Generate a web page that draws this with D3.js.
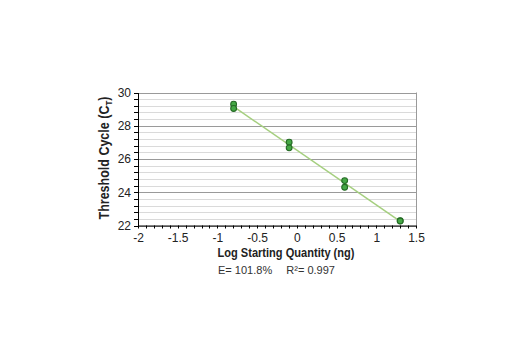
<!DOCTYPE html>
<html><head><meta charset="utf-8">
<script src="https://cdn.jsdelivr.net/npm/d3@7"></script>
<style>body{margin:0;background:#fff}svg{display:block}</style>
</head><body>
<svg id="c" width="520" height="350"></svg>
<script>
const logQty = [-0.796, -0.796, -0.097, -0.097, 0.602, 0.602, 1.301, 1.301];
const ctVals = [29.30, 29.04, 27.01, 26.67, 24.70, 24.30, 22.29, 22.27];
const xTicks = [-2, -1.5, -1, -0.5, 0, 0.5, 1, 1.5];
const yTicks = [22, 24, 26, 28, 30];
const xTitle = "Log Starting Quantity (ng)";
const yTitle = "Threshold Cycle (C";
const efficiency = "E= 101.8%";
const rSquared = "0.997";

const font = "'Liberation Sans',Arial,sans-serif";
const svg = d3.select("#c");
const L = 138, R = 416, T = 92.5, B = 225.5;
const x = d3.scaleLinear().domain([-2, 1.5]).range([L, R]);
const y = d3.scaleLinear().domain([22, 30]).range([B, T]);

// gridlines
const minor = d3.range(22, 30.001, 0.4).map(v => +v.toFixed(1));
svg.append("g").selectAll("line").data(minor).join("line")
  .attr("x1", L).attr("x2", R)
  .attr("y1", d => Math.round(y(d)) + 0.5).attr("y2", d => Math.round(y(d)) + 0.5)
  .attr("stroke", d => (Math.abs(d % 2) < 1e-6 ? "#9a9a9a" : "#dadada"))
  .attr("stroke-width", 1);
svg.append("line").attr("x1", R + 0.5).attr("x2", R + 0.5).attr("y1", T).attr("y2", B)
  .attr("stroke", "#9a9a9a");

// x axis
const xa = d3.axisBottom(x).tickValues(xTicks).tickFormat(d3.format("")).tickSize(0).tickPadding(8);
const gx = svg.append("g").attr("transform", `translate(0,${B})`).call(xa);
gx.select(".domain").attr("stroke", "#000");
gx.selectAll("text").attr("font-family", font).attr("font-size", 12).attr("fill", "#222")
  .text(d => String(d));
const xMinor = d3.range(-2, 1.5001, 0.1);
gx.selectAll(".mt").data(xMinor).join("line").attr("class", "mt")
  .attr("x1", d => Math.round(x(d)) + 0.5).attr("x2", d => Math.round(x(d)) + 0.5)
  .attr("y1", 0).attr("y2", 3).attr("stroke", "#000");

// y axis
const ya = d3.axisLeft(y).tickValues(yTicks).tickSize(0).tickPadding(7);
const gy = svg.append("g").attr("transform", `translate(${L},0)`).call(ya);
gy.select(".domain").attr("stroke", "#000");
gy.selectAll("text").attr("font-family", font).attr("font-size", 12).attr("fill", "#222");
gy.selectAll(".mt").data(minor).join("line").attr("class", "mt")
  .attr("x1", -4).attr("x2", 0)
  .attr("y1", d => Math.round(y(d)) + 0.5).attr("y2", d => Math.round(y(d)) + 0.5)
  .attr("stroke", "#000");

// regression line
const mx = d3.mean(logQty), my = d3.mean(ctVals);
const sxy = d3.sum(logQty.map((v, i) => (v - mx) * (ctVals[i] - my)));
const sxx = d3.sum(logQty.map(v => (v - mx) ** 2));
const slope = sxy / sxx, icpt = my - slope * mx;
const ext = d3.extent(logQty);
svg.append("line")
  .attr("x1", x(ext[0])).attr("y1", y(icpt + slope * ext[0]))
  .attr("x2", x(ext[1])).attr("y2", y(icpt + slope * ext[1]))
  .attr("stroke", "#a5cf7f").attr("stroke-width", 1.5);

// points
svg.append("g").selectAll("circle").data(logQty).join("circle")
  .attr("cx", d => x(d)).attr("cy", (d, i) => y(ctVals[i])).attr("r", 2.9)
  .attr("fill", "#45a845").attr("stroke", "#256b25").attr("stroke-width", 1.1);

// titles
svg.append("text").attr("x", 286).attr("y", 257).attr("text-anchor", "middle")
  .attr("font-family", font).attr("font-weight", "bold").attr("font-size", 13.5).attr("fill", "#222")
  .attr("textLength", 137).attr("lengthAdjust", "spacingAndGlyphs")
  .text(xTitle);
const yt = svg.append("text").attr("transform", `translate(109,158) rotate(-90)`)
  .attr("text-anchor", "middle").attr("font-family", font).attr("font-weight", "bold")
  .attr("font-size", 14).attr("fill", "#222")
  .attr("textLength", 123).attr("lengthAdjust", "spacingAndGlyphs");
yt.append("tspan").text(yTitle);
yt.append("tspan").attr("font-size", 9).attr("dy", 3).text("T");
yt.append("tspan").attr("dy", -3).text(")");

svg.append("text").attr("x", 276.5).attr("y", 273.5).attr("text-anchor", "middle")
  .attr("font-family", font).attr("font-size", 11.5).attr("fill", "#333")
  .attr("textLength", 117).attr("lengthAdjust", "spacingAndGlyphs")
  .text(efficiency + "\u2003 R\u00B2= " + rSquared);
</script>
</body></html>
